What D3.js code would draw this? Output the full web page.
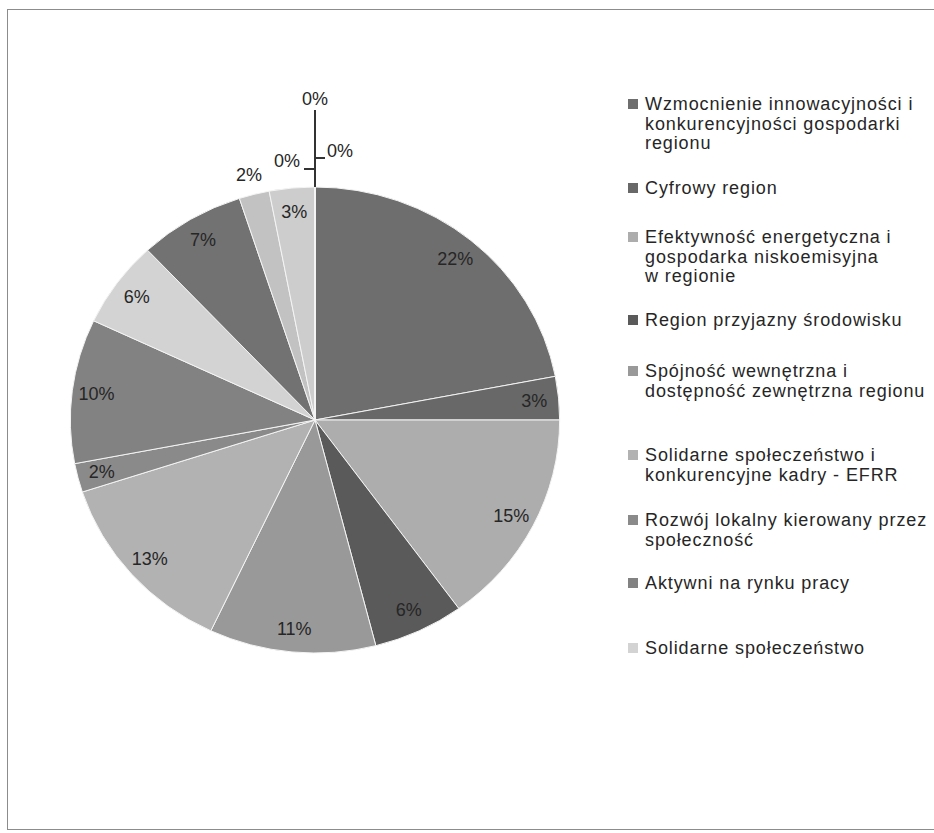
<!DOCTYPE html>
<html>
<head>
<meta charset="utf-8">
<script src="https://cdnjs.cloudflare.com/ajax/libs/d3/7.8.5/d3.min.js"></script>
<style>
  body { margin: 0; background: #fff; }
  text { font-family: "Liberation Sans", Arial, sans-serif; fill: #262626; }
</style>
</head>
<body>
<div class="chart"></div>
<script>
// Priority axes and their share of the allocation (in %).
// The original legend is cut off after the ninth entry.
const categories = [
    "Wzmocnienie innowacyjności i\nkonkurencyjności gospodarki\nregionu",
    "Cyfrowy region",
    "Efektywność energetyczna i\ngospodarka niskoemisyjna\nw regionie",
    "Region przyjazny środowisku",
    "Spójność wewnętrzna i\ndostępność zewnętrzna regionu",
    "Solidarne społeczeństwo i\nkonkurencyjne kadry - EFRR",
    "Rozwój lokalny kierowany przez\nspołeczność",
    "Aktywni na rynku pracy",
    "Solidarne społeczeństwo",
    "Innowacyjna edukacja",
    "Rozwój lokalny kierowany przez społeczność - EFS",
    "Pomoc techniczna",
    "Oś 13",
    "Oś 14",
    "Oś 15"
];
const shares = [22, 3, 15, 6, 11, 13, 2, 10, 6, 7, 2, 3, 0, 0, 0];
const grays = ["#6e6e6e", "#686868", "#adadad", "#5a5a5a", "#999999", "#b2b2b2", "#8a8a8a",
               "#828282", "#d3d3d3", "#727272", "#c2c2c2", "#cdcdcd", "#888888", "#999999", "#aaaaaa"];
const legendCount = 9;

const width = 934, height = 833;
const cx = 315, cy = 420, R = 233, sx = 1.05;   // scan is slightly stretched sideways
const legendY = [104, 188, 237, 320, 371, 455, 520, 583, 648];

const svg = d3.select("div.chart")
    .append("svg")
    .attr("width", width)
    .attr("height", height);

// frame of the scanned chart area
svg.append("rect")
    .attr("x", 7.5).attr("y", 9.5)
    .attr("width", 940).attr("height", 820)
    .attr("fill", "none")
    .attr("stroke", "#8c8c8c");

const pie = d3.pie().sort(null).value(d => d);
const arcs = pie(shares);
const arc = d3.arc().innerRadius(0).outerRadius(R);

svg.append("g")
    .attr("transform", `translate(${cx},${cy}) scale(${sx},1)`)
    .selectAll("path")
    .data(arcs)
    .enter()
    .append("path")
    .attr("d", arc)
    .attr("fill", (d, i) => grays[i])
    .attr("stroke", "#f4f4f4")
    .attr("stroke-width", 1)
    .attr("vector-effect", "non-scaling-stroke");

// data labels: inside for most slices, outside for the thin 2% one at the top
const outside = new Set([10]);
const labels = svg.append("g");
arcs.forEach((d, i) => {
    if (d.data === 0) return;
    const r = outside.has(i) ? R * 1.085 : R * 0.9;
    const p = d3.arc().innerRadius(r).outerRadius(r).centroid(d);
    labels.append("text")
        .attr("x", cx + p[0] * sx)
        .attr("y", cy + p[1])
        .attr("dy", "0.35em")
        .attr("text-anchor", "middle")
        .attr("font-size", 18)
        .text(d.data + "%");
});

// zero-share slices collapse at 12 o'clock; labels pulled out with leader lines
const zeroIdx = arcs.map((d, i) => d.data === 0 ? i : -1).filter(i => i >= 0);
const topX = cx, topY = cy - R;
const zeroLayout = [
    { line: [[0, 0], [0, -77]], tx: 0, ty: -82, anchor: "middle" },
    { line: [[0, -29], [10, -29]], tx: 12, ty: -30, anchor: "start" },
    { line: [[0, -18], [-11, -18]], tx: -15, ty: -20, anchor: "end" }
];
zeroIdx.forEach((idx, k) => {
    const L = zeroLayout[k];
    svg.append("path")
        .attr("d", d3.line()(L.line.map(q => [topX + q[0], topY + q[1]])))
        .attr("stroke", "#333")
        .attr("stroke-width", 2)
        .attr("fill", "none");
    svg.append("text")
        .attr("x", topX + L.tx)
        .attr("y", topY + L.ty)
        .attr("text-anchor", L.anchor)
        .attr("font-size", 18)
        .text(shares[idx] + "%");
});

// legend
const legend = svg.append("g");
categories.slice(0, legendCount).forEach((name, i) => {
    const g = legend.append("g").attr("transform", `translate(628,${legendY[i]})`);
    g.append("rect")
        .attr("x", 0).attr("y", -5)
        .attr("width", 10).attr("height", 10)
        .attr("fill", grays[i]);
    const t = g.append("text")
        .attr("x", 17)
        .attr("font-size", 18)
        .attr("letter-spacing", 0.9);
    name.split("\n").forEach((line, j) => {
        t.append("tspan")
            .attr("x", 17)
            .attr("y", j * 19.5)
            .attr("dy", "0.35em")
            .text(line);
    });
});
</script>
</body>
</html>
